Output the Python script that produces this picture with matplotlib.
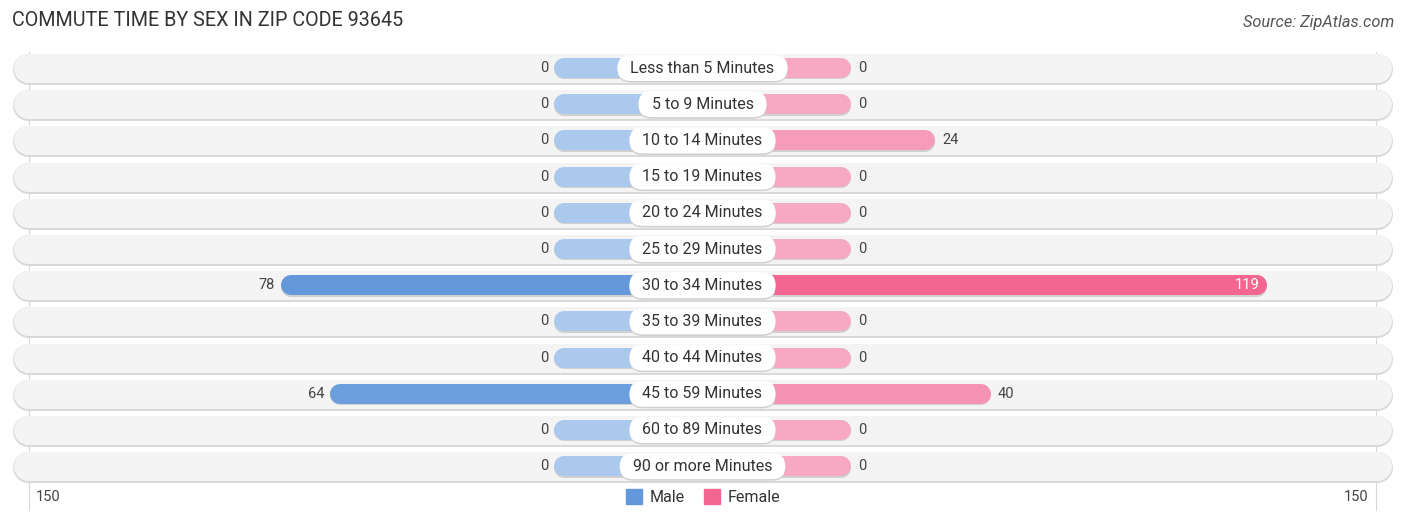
import numpy as np
import matplotlib.pyplot as plt
from matplotlib.patches import Patch, FancyBboxPatch
from matplotlib.transforms import IdentityTransform
from matplotlib.colors import to_rgb

categories = ["Less than 5 Minutes", "5 to 9 Minutes", "10 to 14 Minutes", "15 to 19 Minutes",
              "20 to 24 Minutes", "25 to 29 Minutes", "30 to 34 Minutes", "35 to 39 Minutes",
              "40 to 44 Minutes", "45 to 59 Minutes", "60 to 89 Minutes", "90 or more Minutes"]
male = [0, 0, 0, 0, 0, 0, 78, 0, 0, 64, 0, 0]
female = [0, 0, 24, 0, 0, 0, 119, 0, 0, 40, 0, 0]
axis_max = 150

plt.rcParams['font.family'] = ['Roboto', 'DejaVu Sans']

W, H = 1406, 522
px = 3.5            # pixels per unit
center = 702.5
stub = 42.4         # zero-value bar length in units (hidden under label)

fig = plt.figure(figsize=(W / 100, H / 100), dpi=100)
ax = fig.add_axes([0, 0, 1, 1])
ax.set_xlim(-center / px, (W - center) / px)
row0, step = 68, 36.2
ax.set_ylim((H - row0) / step, -row0 / step)
ax.axis('off')

def pt(pixels):
    return pixels * 72 / 100

male_lo, male_hi = to_rgb("#aac9ed"), to_rgb("#6399da")
fem_lo, fem_hi = to_rgb("#f7a9c3"), to_rgb("#f36692")

def mix(lo, hi, t):
    return tuple(a + (b - a) * t for a, b in zip(lo, hi))

m_max, f_max = max(male), max(female)

# gridlines
edge = stub + axis_max
for gx in (-edge, edge):
    ax.plot([gx, gx], [-0.45, 12.2], color="#d8d8d8", lw=0.8, zorder=0)

bg_half = (1392 - center) / px - 15 / px
labels = []
for i, cat in enumerate(categories):
    # row pill background
    ax.plot([-bg_half, bg_half], [i + 0.03, i + 0.03], color="#d9d9d9", lw=pt(31),
            solid_capstyle='round', zorder=1)
    ax.plot([-bg_half, bg_half], [i, i], color="#f4f4f4", lw=pt(29),
            solid_capstyle='round', zorder=1.1)

    r = 10 / px
    m, f = male[i], female[i]
    mc = mix(male_lo, male_hi, (m / m_max) ** 0.5)
    fc = mix(fem_lo, fem_hi, f / f_max)
    ax.plot([-(stub + m) + r, 0], [i + 0.04, i + 0.04], color="#d0d0d0", lw=pt(20),
            solid_capstyle='round', zorder=1.9)
    ax.plot([0, stub + f - r], [i + 0.04, i + 0.04], color="#d0d0d0", lw=pt(20),
            solid_capstyle='round', zorder=1.9)
    ax.plot([-(stub + m) + r, 0], [i, i], color=mc, lw=pt(20), solid_capstyle='round', zorder=2)
    ax.plot([0, stub + f - r], [i, i], color=fc, lw=pt(20), solid_capstyle='round', zorder=2)

    t = ax.text(0, i, cat, ha='center', va='center', fontsize=11.5, color="#333333", zorder=5)
    labels.append(t)

    ax.text(-(stub + m) - 6 / px, i, str(m), ha='right', va='center', fontsize=10.5,
            color="#444444", zorder=3)
    if f > 100:
        ax.text(stub + f - 8 / px, i, str(f), ha='right', va='center', fontsize=10.5,
                color="white", zorder=3)
    else:
        ax.text(stub + f + 7 / px, i, str(f), ha='left', va='center', fontsize=10.5,
                color="#444444", zorder=3)

# white pills behind category labels, sized from the rendered text
fig.canvas.draw()
renderer = fig.canvas.get_renderer()
for i, t in enumerate(labels):
    bb = t.get_window_extent(renderer)
    yc = ax.transData.transform((0, i))[1]
    hw = bb.width / 2 + 13
    for dy, col, z in ((-1.5, "#cfcfcf", 4), (0, "white", 4.1)):
        ax.add_patch(FancyBboxPatch((bb.x0 + bb.width / 2 - hw, yc - 13 + dy), 2 * hw, 26,
                                    boxstyle='round,pad=0,rounding_size=13', fc=col,
                                    ec='none', transform=IdentityTransform(), zorder=z))

ybot = (497 - row0) / step
ax.text(-edge + 7 / px, ybot, str(axis_max), ha='left', va='center', fontsize=10.5, color="#444444")
ax.text(edge - 7 / px, ybot, str(axis_max), ha='right', va='center', fontsize=10.5, color="#444444")

handles = [Patch(color="#6399da", label="Male"), Patch(color="#f36692", label="Female")]
ax.legend(handles=handles, loc='center', bbox_to_anchor=(0.5, 1 - 497 / H), ncol=2,
          frameon=False, fontsize=11.5, handlelength=1.0, handleheight=1.1,
          handletextpad=0.5, columnspacing=1.2, labelcolor="#333333")

fig.text(12 / W, 1 - 21 / H, "COMMUTE TIME BY SEX IN ZIP CODE 93645", fontsize=14.2,
         color="#333333", va='center', ha='left')
fig.text(1394 / W, 1 - 23 / H, "Source: ZipAtlas.com", fontsize=11.8, color="#555555",
         style='italic', va='center', ha='right')

fig.savefig("out.png", dpi=100)
